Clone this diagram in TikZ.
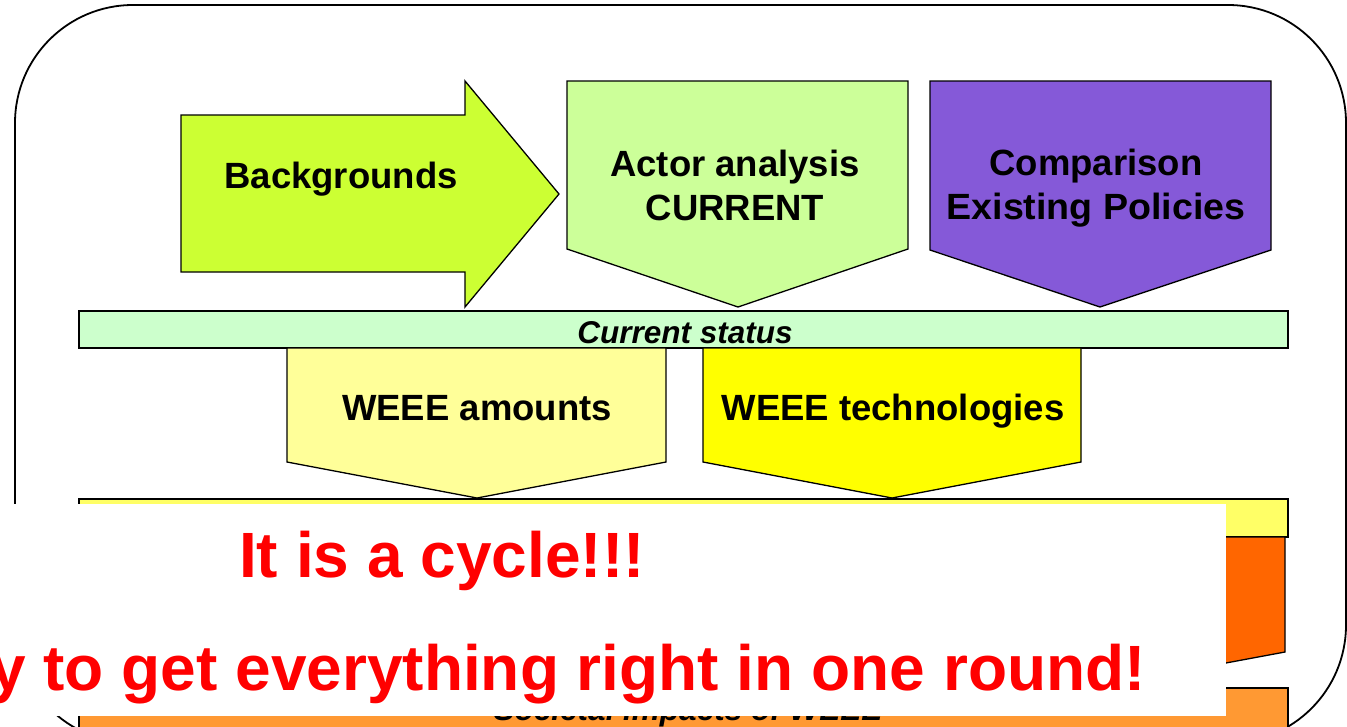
\documentclass[tikz,border=0pt]{standalone}
\usepackage{fontspec}
\setmainfont{Liberation Sans}
\usepackage{xcolor}

\definecolor{limefill}{HTML}{CCFF33}
\definecolor{actorfill}{HTML}{CCFF99}
\definecolor{policyfill}{HTML}{8559D8}
\definecolor{statusfill}{HTML}{CCFFCC}
\definecolor{amountfill}{HTML}{FFFF99}
\definecolor{techfill}{HTML}{FFFF00}
\definecolor{resultbar}{HTML}{FFFF66}
\definecolor{impactfill}{HTML}{FF6600}
\definecolor{societalfill}{HTML}{FF9933}
\definecolor{shoutred}{HTML}{FF0000}

\tikzset{
  frame/.style={draw=black, line width=1.8pt, rounded corners=118pt},
  block/.style={draw=black, line width=1.3pt, line join=miter},
  lbl/.style={font=\fontsize{36.5}{44}\selectfont\bfseries, align=center, inner sep=0pt},
  barlbl/.style={font=\fontsize{31.5}{36}\selectfont\bfseries\itshape, inner sep=0pt},
  shout/.style={text=shoutred, font=\fontsize{64}{70}\selectfont\bfseries, inner sep=0pt},
}

\begin{document}
\begin{tikzpicture}[x=1pt,y=-1pt]
\useasboundingbox (0,0) rectangle (1347,726);

% outer frame
\draw[frame] (15,5) rectangle (1346,743);

% top row
\filldraw[block, fill=limefill] (181,115) -- (465,115) -- (465,81) -- (559,194)
  -- (465,307) -- (465,272) -- (181,272) -- cycle;
\node[lbl, anchor=base] (bg) at (341,188) {Backgrounds};

\filldraw[block, fill=actorfill] (567,81) -- (908,81) -- (908,249) -- (738,307)
  -- (567,249) -- cycle;
\node[lbl] (actor) at (735,185) {Actor analysis\\CURRENT};

\filldraw[block, fill=policyfill] (930,81) -- (1271,81) -- (1271,250) -- (1100,307)
  -- (930,250) -- cycle;
\node[lbl] (policy) at (1096,188) {Comparison\\\scalebox{1.03}[1]{Existing Policies}};

% current status bar
\filldraw[block, fill=statusfill] (79,311) rectangle (1288,348);
\node[barlbl, anchor=base] (status) at (685,343) {Current status};

% second row
\filldraw[block, fill=amountfill] (287,348) -- (666,348) -- (666,462) -- (477,498)
  -- (287,462) -- cycle;
\node[lbl, anchor=base] (amounts) at (477,420) {WEEE amounts};

\filldraw[block, fill=techfill] (703,348) -- (1081,348) -- (1081,462) -- (892,498)
  -- (703,462) -- cycle;
\node[lbl, anchor=base] (techn) at (893,420) {WEEE technologies};

% lower bars
\filldraw[block, fill=resultbar] (79,499) rectangle (1288,537);
\filldraw[block, fill=impactfill] (81,537) -- (1285,537) -- (1285,652) -- (683,764)
  -- (81,652) -- cycle;
\filldraw[block, fill=societalfill] (79,688) rectangle (1288,760);
\node[barlbl, anchor=base] (societal) at (688,720) {Societal impacts of WEEE};

% message box on top
\fill[white] (0,504) rectangle (1226,716);
\node[shout, anchor=base west] (cycle) at (239,577) {It is a cycle!!!};
\node[shout, anchor=base east] (oneround) at (1146,690) {y to get everything right in one round!};

\end{tikzpicture}
\end{document}
